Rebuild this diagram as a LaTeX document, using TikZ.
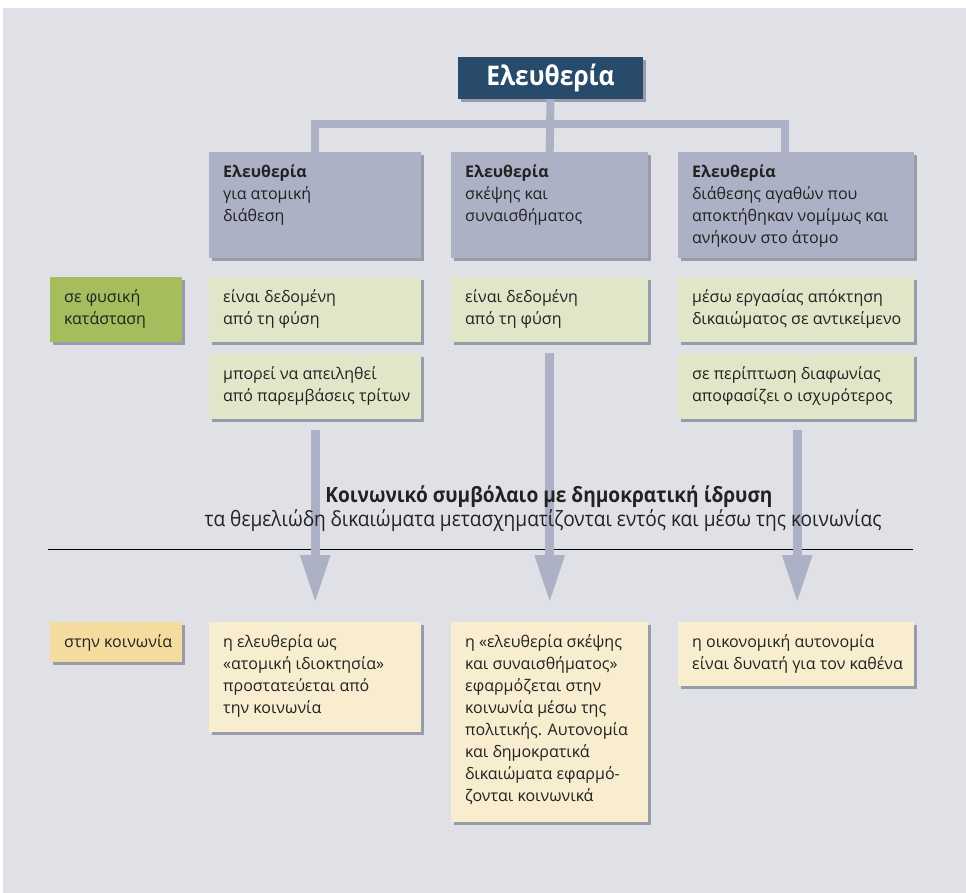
\documentclass[tikz,border=0pt]{standalone}
\usepackage{fontspec}
\setmainfont{Open Sans}
\newfontfamily\narrowfont[FakeStretch=0.91]{Open Sans}
\usetikzlibrary{arrows.meta, positioning, shadows}

\definecolor{panelgray}{HTML}{E0E1E7}
\definecolor{titleblue}{HTML}{284B6C}
\definecolor{headgray}{HTML}{ADB1C5}
\definecolor{natgreen}{HTML}{A6BD5E}
\definecolor{natlight}{HTML}{DFE7C8}
\definecolor{socyellow}{HTML}{F4DC9E}
\definecolor{soclight}{HTML}{F9EDCF}
\definecolor{inktext}{HTML}{222222}
\definecolor{shadowgray}{HTML}{5E6378}

% box text: width and height of the whole box, text kept at the top left
\newcommand{\boxtext}[3]{\begin{minipage}[c][\dimexpr#2pt-20pt\relax][t]{#1pt}\raggedright\leftskip=14pt\strut #3\end{minipage}}

\begin{document}
\begin{tikzpicture}[x=1pt, y=-1pt, line join=round,
  cellbox/.style={anchor=north west, inner xsep=0pt, inner ysep=10pt, text=inktext,
    font=\fontsize{16}{22}\selectfont,
    drop shadow={shadow xshift=3pt, shadow yshift=-3pt, fill=shadowgray, opacity=.55}},
  tree/.style={draw=headgray, line width=8pt, line join=miter},
  flow/.style={draw=headgray, line width=9pt, -{Triangle[length=48pt, width=28pt]},
    shorten <=11pt, shorten >=19pt}]

\useasboundingbox (0,0) rectangle (966,893);
\fill[panelgray] (3,8) rectangle (966,893);

% Title
\node[fill=titleblue, text=white, minimum width=185pt, minimum height=42pt, inner sep=0pt,
  font=\narrowfont\bfseries\fontsize{27}{30}\selectfont,
  drop shadow={shadow xshift=3pt, shadow yshift=-3pt, fill=shadowgray, opacity=.55}]
  (title) at (550.5,78) {Ελευθερία};

% Boxes
\foreach \id/\fillc/\x/\y/\w/\h/\txt in {
  h1/headgray/209/152/212/106/{\textbf{Ελευθερία}\\για ατομική\\διάθεση},
  h2/headgray/451/152/197/106/{\textbf{Ελευθερία}\\σκέψης και\\συναισθήματος},
  h3/headgray/678/152/236/106/{\textbf{Ελευθερία}\\διάθεσης αγαθών που\\αποκτήθηκαν νομίμως και\\ανήκουν στο άτομο},
  nat/natgreen/50/277/132/65/{σε φυσική\\κατάσταση},
  g1a/natlight/209/277/212/65/{είναι δεδομένη\\από τη φύση},
  g1b/natlight/209/354/212/65/{μπορεί να απειληθεί\\από παρεμβάσεις τρίτων},
  g2/natlight/451/277/197/65/{είναι δεδομένη\\από τη φύση},
  g3a/natlight/678/277/236/65/{μέσω εργασίας απόκτηση\\δικαιώματος σε αντικείμενο},
  g3b/natlight/678/354/236/65/{σε περίπτωση διαφωνίας\\αποφασίζει ο ισχυρότερος},
  soc/socyellow/50/622/132/40/{στην κοινωνία},
  s1/soclight/209/622/212/110/{η ελευθερία ως\\«ατομική ιδιοκτησία»\\προστατεύεται από\\την κοινωνία},
  s2/soclight/451/622/197/200/{η «ελευθερία σκέψης\\και συναισθήματος»\\εφαρμόζεται στην\\κοινωνία μέσω της\\πολιτικής. Αυτονομία\\και δημοκρατικά\\δικαιώματα εφαρμό-\\ζονται κοινωνικά},
  s3/soclight/678/622/236/64/{η οικονομική αυτονομία\\είναι δυνατή για τον καθένα}
} {
  \node[cellbox, fill=\fillc] (\id) at (\x,\y) {\boxtext{\w}{\h}{\txt}};
}

% Tree from the title
\draw[tree] (title.south) -- (h2.north);
\draw[tree] (h1.north) -- ++(0,-28) -| ([xshift=-11pt]h3.north);

% Rule
\coordinate (ruleL) at (48,549);
\coordinate (ruleR) at (913,549);
\draw[black, line width=0.8pt] (ruleL) -- (ruleR);

% Arrows into society
\draw[flow] (g1b.south) -- (s1.north);
\draw[flow] (g2.south) -- (s2.north);
\draw[flow] ([xshift=1pt]g3b.south) -- ([xshift=1pt]s3.north);

% Contract
\node[anchor=base, text=inktext, font=\narrowfont\bfseries\fontsize{21}{24}\selectfont]
  (contract) at (549,502) {Κοινωνικό συμβόλαιο με δημοκρατική ίδρυση};
\node[anchor=base, text=inktext, font=\narrowfont\fontsize{21}{24}\selectfont]
  (contractsub) at (543,526) {τα θεμελιώδη δικαιώματα μετασχηματίζονται εντός και μέσω της κοινωνίας};

\end{tikzpicture}
\end{document}
